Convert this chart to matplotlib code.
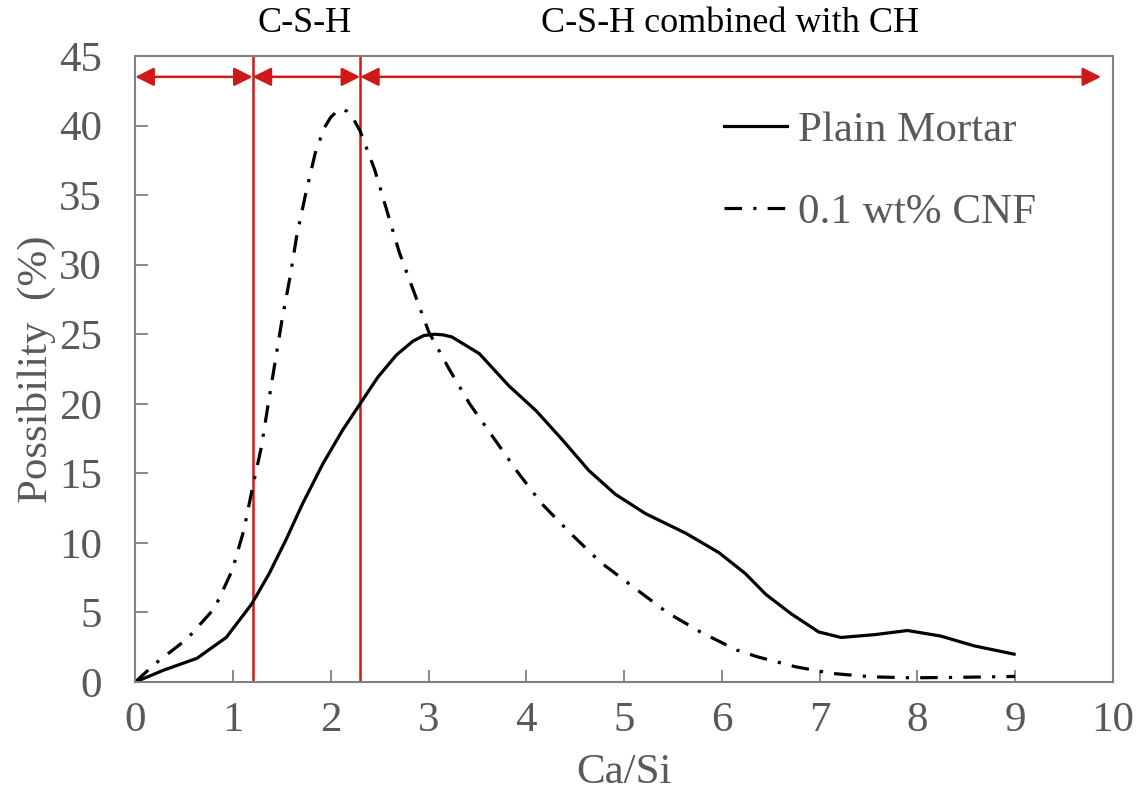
import matplotlib
matplotlib.use("Agg")
import matplotlib.pyplot as plt
from matplotlib.transforms import blended_transform_factory

# Ca/Si distribution
plain_x = [0, 0.29, 0.63, 0.93, 1.19, 1.37, 1.54, 1.71, 1.92, 2.12, 2.30, 2.48,
           2.67, 2.84, 2.95, 3.06, 3.15, 3.24, 3.52, 3.82, 4.10, 4.37, 4.64,
           4.91, 5.22, 5.63, 5.97, 6.24, 6.45, 6.71, 6.99, 7.22, 7.56, 7.90,
           8.24, 8.58, 8.99]
plain_y = [0, 0.85, 1.7, 3.2, 5.6, 7.8, 10.2, 12.8, 15.7, 18.1, 20.0, 21.9,
           23.5, 24.5, 24.9, 25.0, 24.95, 24.8, 23.6, 21.3, 19.5, 17.4, 15.2,
           13.5, 12.1, 10.7, 9.3, 7.8, 6.3, 4.9, 3.6, 3.2, 3.4, 3.7,
           3.3, 2.6, 2.0]

cnf_x = [0, 0.20, 0.53, 0.81, 0.99, 1.11, 1.20, 1.29, 1.36, 1.43, 1.50, 1.58,
         1.65, 1.74, 1.84, 1.93, 2.00, 2.06, 2.12, 2.17, 2.23, 2.30, 2.45,
         2.70, 3.00, 3.21, 3.42, 3.66, 3.91, 4.16, 4.45, 4.76, 5.10, 5.44,
         5.78, 6.15, 6.37, 6.75, 7.12, 7.53, 7.94, 8.35, 8.76, 9.00]
cnf_y = [0, 1.3, 3.1, 5.3, 8.0, 10.9, 14.0, 16.9, 20.0, 23.0, 26.0, 29.0,
         32.0, 35.0, 38.0, 39.8, 40.6, 41.0, 41.2, 41.0, 40.5, 39.6, 36.8,
         30.9, 25.2, 22.5, 20.0, 17.6, 15.1, 12.8, 10.7, 8.6, 6.8, 5.0,
         3.6, 2.3, 1.8, 1.1, 0.62, 0.37, 0.3, 0.33, 0.37, 0.4]

boundaries = [1.2, 2.3]
region_labels = ["C-S-H", "C-S-H combined with CH"]
region_label_x = [1.73, 6.08]
arrow_spans = [(0, 1.2), (1.2, 2.3), (2.3, 9.88)]
arrow_y = 43.5

RED = "#D01818"
GRAY = "#595959"

plt.rcParams["font.family"] = ["Liberation Serif", "DejaVu Serif"]

fig = plt.figure(figsize=(11.39, 8.09), dpi=100)
ax = fig.add_axes([0.1188, 0.157, 0.8582, 0.7738])

ax.plot(plain_x, plain_y, color="black", lw=2.3, label="Plain Mortar")
ax.plot(cnf_x, cnf_y, color="black", lw=2.3, dashes=(5.5, 3.5, 1, 3.5),
        label="0.1 wt% CNF")

for b in boundaries:
    ax.axvline(b, color=RED, lw=1.8, zorder=1)
for x0, x1 in arrow_spans:
    ax.annotate("", xy=(x1, arrow_y), xytext=(x0, arrow_y),
                arrowprops=dict(arrowstyle="<|-|>", color=RED, lw=1.8,
                                mutation_scale=28, shrinkA=0, shrinkB=0))

trans = blended_transform_factory(ax.transData, ax.transAxes)
for lx, txt in zip(region_label_x, region_labels):
    ax.text(lx, 1.052, txt, transform=trans, ha="center", va="center",
            fontsize=26, color="black")

ax.set_xlim(0, 10)
ax.set_ylim(0, 45)
ax.set_xticks(range(0, 11))
ax.set_yticks(range(0, 46, 5))
ax.tick_params(axis="both", direction="in", length=9, width=1.3,
               colors="#808080", labelcolor=GRAY, labelsize=31)
ax.tick_params(axis="x", pad=14)
ax.tick_params(axis="y", pad=24)
for s in ax.spines.values():
    s.set_color("#808080")
    s.set_linewidth(1.5)

ax.set_xlabel("Ca/Si", fontsize=31, color=GRAY, labelpad=10)
ax.set_ylabel("Possibility  (%)", fontsize=31, color=GRAY, labelpad=2)

ax.legend(loc="upper left", bbox_to_anchor=(0.585, 0.94), frameon=False,
          fontsize=31, handlelength=1.45, handletextpad=0.25,
          labelspacing=1.0, labelcolor=GRAY, borderaxespad=0)

fig.savefig("out.png", dpi=100)
